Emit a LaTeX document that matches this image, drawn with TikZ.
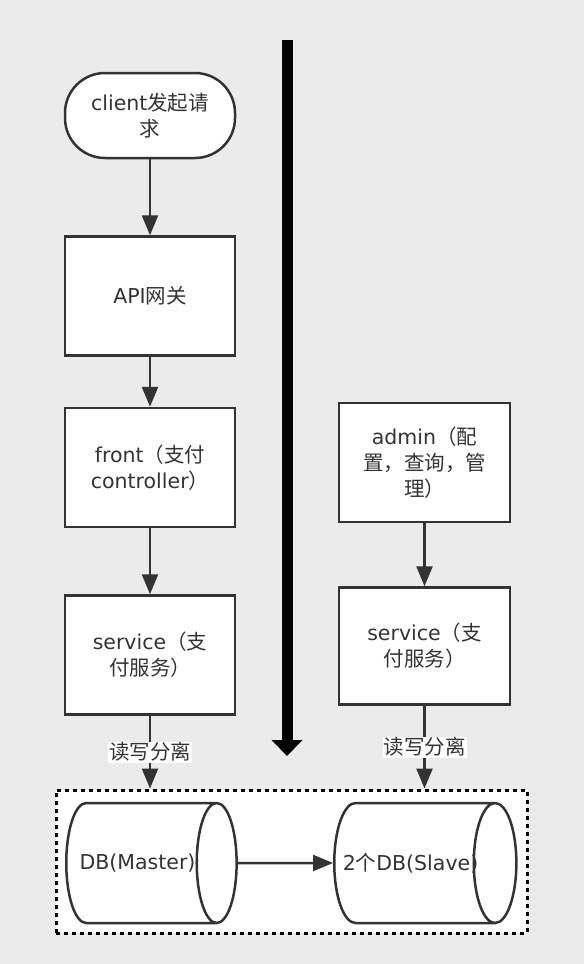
\documentclass[tikz,border=0pt]{standalone}
\usepackage{fontspec}
\setmainfont{DejaVu Sans}
\newfontfamily\cjk{Noto Sans CJK SC}
\newcommand\zh[1]{{\cjk #1}}
\usetikzlibrary{arrows.meta,positioning,shapes.geometric}
\definecolor{bg}{HTML}{EBEBEB}
\definecolor{ink}{HTML}{333333}

\begin{document}
\begin{tikzpicture}[x=1pt,y=-1pt,font=\fontsize{20.5}{26}\selectfont,text=ink,
  >={Triangle[length=20pt,width=16pt]},
  box/.style={draw=ink,line width=2.5pt,fill=white,minimum width=170pt,minimum height=119pt,align=center},
  db/.style={cylinder,draw=ink,line width=2.5pt,fill=white,minimum width=120pt,aspect=1.6,inner xsep=0pt,anchor=west},
  link/.style={->,draw=ink,line width=2.5pt},
  tag/.style={fill=white,inner sep=1pt}]
\fill[bg] (0,0) rectangle (584,964);
\useasboundingbox (0,0) rectangle (584,964);
% left column
\node[box,rounded corners=40pt,minimum height=85pt] (client) at (150,115.5) {client\zh{发起请}\\\zh{求}};
\node[box,below=76pt of client] (api) {API\zh{网关}};
\node[box,below=50pt of api] (front) {front\zh{（支付}\\controller\zh{）}};
\node[box,below=66pt of front] (svc) {service\zh{（支}\\\zh{付服务）}};
% right column
\node[box,minimum width=171pt] (admin) at (424.5,462.5) {admin\zh{（配}\\\zh{置，查询，管}\\\zh{理）}};
\node[box,minimum width=171pt,minimum height=117pt,below=63pt of admin] (svc2) {service\zh{（支}\\\zh{付服务）}};
% separator
\coordinate (sep top) at (287,40);
\coordinate (sep end) at (287,756);
\draw[-{Triangle[length=16pt,width=30pt]},line width=11pt] (sep top) -- (sep end);
% databases
\node[draw,line width=3pt,dash pattern=on 4pt off 4pt,fill=white,minimum width=471pt,minimum height=143pt] (zone) at (291.5,861.5) {};
\node[db,minimum height=162pt] (master) at (65,863) {DB(Master)};
\node[db,minimum height=167pt] (slave) at (333,863) {\makebox[124pt][c]{2\zh{个}DB(Slave)}};
\draw[link] (client) -- (api);
\draw[link] (api) -- (front);
\draw[link] (front) -- (svc);
\draw[link] (admin) -- (svc2);
\draw[link] (svc) -- (svc |- zone.north) node[midway,tag]{\zh{读写分离}};
\draw[link] (svc2) -- (svc2 |- zone.north) node[midway,tag]{\zh{读写分离}};
\draw[link] (master) -- (slave);
\end{tikzpicture}
\end{document}
